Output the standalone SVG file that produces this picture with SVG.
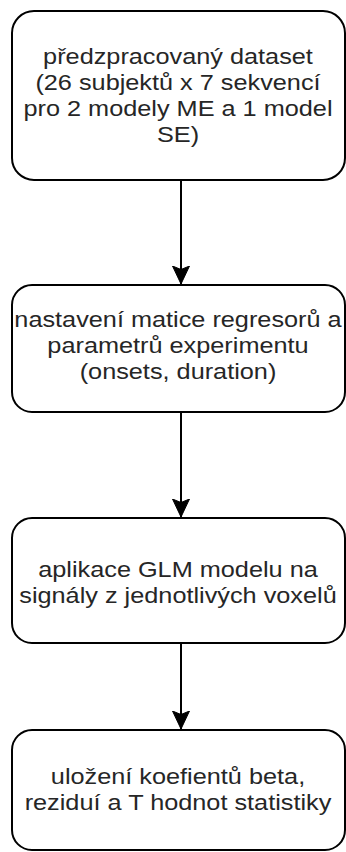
<svg xmlns="http://www.w3.org/2000/svg" width="346" height="852" viewBox="0 0 346 852">
  <style>
    .box { fill: #ffffff; stroke: #000000; stroke-width: 2; }
    .lbl { font-family: "Liberation Sans", Arial, Helvetica, sans-serif; font-size: 21.8px; fill: #262626; text-anchor: middle; }
    .edge { stroke: #000000; stroke-width: 2; fill: none; }
  </style>
  <defs>
    <marker id="arrow" markerUnits="userSpaceOnUse" markerWidth="20" markerHeight="20" viewBox="0 0 20 20" refX="18" refY="10" orient="auto">
      <path d="M0,1.5 L18,10 L0,18.5 L3.5,10 Z" fill="#000000" stroke="#000000" stroke-width="1"/>
    </marker>
  </defs>

  <rect width="346" height="852" fill="#ffffff"/>

  <g id="connectors">
    <line class="edge" x1="181" y1="180" x2="181" y2="284" marker-end="url(#arrow)"/>
    <line class="edge" x1="181" y1="412" x2="181" y2="517" marker-end="url(#arrow)"/>
    <line class="edge" x1="181" y1="643" x2="181" y2="729" marker-end="url(#arrow)"/>
  </g>

  <g id="dataset">
    <rect class="box" x="12" y="11" width="333" height="169" rx="22" ry="22"/>
    <g transform="translate(178,0) scale(1.16,1) translate(-178,0)">
      <text class="lbl" x="178" y="64.5">předzpracovaný dataset</text>
      <text class="lbl" x="178" y="90.5">(26 subjektů x 7 sekvencí</text>
      <text class="lbl" x="178" y="116.5">pro 2 modely ME a 1 model</text>
      <text class="lbl" x="178" y="142.5">SE)</text>
    </g>
  </g>

  <g id="regressors">
    <rect class="box" x="12" y="285" width="333" height="127" rx="20" ry="20"/>
    <g transform="translate(178,0) scale(1.16,1) translate(-178,0)">
      <text class="lbl" x="178" y="327">nastavení matice regresorů a</text>
      <text class="lbl" x="178" y="353">parametrů experimentu</text>
      <text class="lbl" x="178" y="379">(onsets, duration)</text>
    </g>
  </g>

  <g id="glm">
    <rect class="box" x="12" y="518" width="333" height="125" rx="20" ry="20"/>
    <g transform="translate(178,0) scale(1.16,1) translate(-178,0)">
      <text class="lbl" x="178" y="577">aplikace GLM modelu na</text>
      <text class="lbl" x="178" y="603">signály z jednotlivých voxelů</text>
    </g>
  </g>

  <g id="results">
    <rect class="box" x="12" y="730" width="333" height="120" rx="20" ry="20"/>
    <g transform="translate(178,0) scale(1.16,1) translate(-178,0)">
      <text class="lbl" x="178" y="784">uložení koefientů beta,</text>
      <text class="lbl" x="178" y="810">reziduí a T hodnot statistiky</text>
    </g>
  </g>
</svg>
